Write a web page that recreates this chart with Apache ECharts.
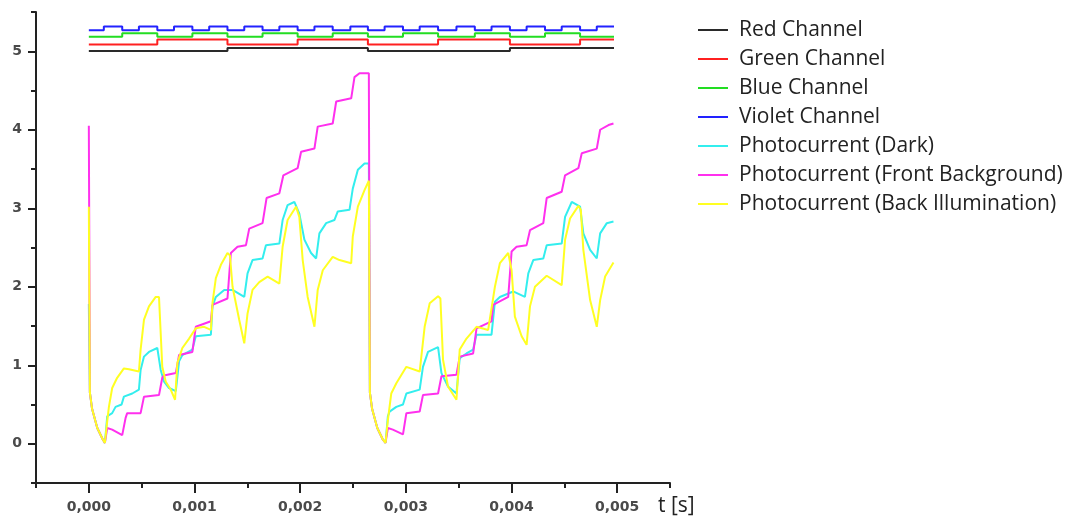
<!DOCTYPE html>
<html>
<head>
<meta charset="utf-8">
<script src="https://cdn.jsdelivr.net/npm/echarts@6/dist/echarts.min.js"></script>
<style>
html, body { margin: 0; padding: 0; background: #fff; }
#main { width: 1071px; height: 516px; }
</style>
</head>
<body>
<div id="main"></div>
<script>
// legend names (as in the original, the "Red Channel" trace is drawn black etc.)
var names = ['Red Channel', 'Green Channel', 'Blue Channel', 'Violet Channel',
    'Photocurrent (Dark)', 'Photocurrent (Front Background)', 'Photocurrent (Back Illumination)'];

// axis ticks
var xMajor = [0, 0.001, 0.002, 0.003, 0.004, 0.005];
var xMinor = [-0.0005, 0.0005, 0.0015, 0.0025, 0.0035, 0.0045, 0.0055];
var yMajor = [0, 1, 2, 3, 4, 5];
var yMinor = [-0.5, 0.5, 1.5, 2.5, 3.5, 4.5, 5.5];

// channel square waves: time of each change, level held from that time
var redChT = [0, 0.001312, 0.002641, 0.003985, 0.00497];
var redChY = [5.004, 5.042, 5.004, 5.042, 5.042];

var greenChT = [0, 0.000648, 0.001312, 0.001976, 0.002641, 0.003305, 0.003985, 0.004649, 0.00497];
var greenChY = [5.085, 5.149, 5.085, 5.149, 5.085, 5.149, 5.085, 5.149, 5.149];

var blueChT = [0, 0.000316, 0.000648, 0.00098, 0.001312, 0.001644, 0.001976, 0.002308, 0.002641,
    0.002973, 0.003305, 0.003653, 0.003985, 0.004317, 0.004649, 0.00497];
var blueChY = [5.185, 5.228, 5.185, 5.228, 5.185, 5.228, 5.185, 5.228, 5.185,
    5.228, 5.185, 5.228, 5.185, 5.228, 5.185, 5.185];

var violetChT = [0, 0.000142, 0.000316, 0.000474, 0.000648, 0.000806, 0.00098, 0.001139, 0.001312,
    0.001471, 0.001644, 0.001803, 0.001976, 0.002135, 0.002308, 0.002475, 0.002641, 0.002799,
    0.002973, 0.003131, 0.003305, 0.003479, 0.003653, 0.003811, 0.003985, 0.004143, 0.004317,
    0.004475, 0.004649, 0.004807, 0.00497];
var violetChY = [5.267, 5.314, 5.267, 5.314, 5.267, 5.314, 5.267, 5.314, 5.267,
    5.314, 5.267, 5.314, 5.267, 5.314, 5.267, 5.314, 5.267, 5.314,
    5.267, 5.314, 5.267, 5.314, 5.267, 5.314, 5.267, 5.314, 5.267,
    5.314, 5.267, 5.314, 5.314];

// photocurrents [t, value]
var darkPts = [
    [0, 1.78], [0.00001, 0.65], [0.00003, 0.45], [0.00008, 0.2], [0.00013, 0.06], [0.000152, 0.01],
    [0.000174, 0.35], [0.000221, 0.39], [0.000253, 0.47], [0.00031, 0.5], [0.000332, 0.6], [0.000411, 0.64],
    [0.000474, 0.69], [0.00049, 0.94], [0.000522, 1.11], [0.000569, 1.17], [0.000648, 1.22], [0.00068, 0.94],
    [0.000712, 0.79], [0.000759, 0.71], [0.000823, 0.67], [0.000854, 1.05], [0.000885, 1.13], [0.00098, 1.2],
    [0.001012, 1.37], [0.001155, 1.39], [0.00117, 1.75], [0.001202, 1.87], [0.001281, 1.96], [0.00136, 1.96],
    [0.001471, 1.87], [0.001502, 2.17], [0.001549, 2.34], [0.001644, 2.36], [0.001676, 2.53], [0.001803, 2.55],
    [0.001834, 2.85], [0.001881, 3.04], [0.001945, 3.08], [0.001992, 2.93], [0.00204, 2.6], [0.002103, 2.43],
    [0.002151, 2.36], [0.002182, 2.68], [0.002246, 2.81], [0.002324, 2.85], [0.002356, 2.96], [0.002467, 2.98],
    [0.002498, 3.25], [0.002546, 3.49], [0.002609, 3.57], [0.00265, 3.57],
    [0.00266, 0.65], [0.00268, 0.45], [0.00273, 0.2], [0.00278, 0.06], [0.002808, 0.01],
    [0.00283, 0.35], [0.002846, 0.41], [0.00291, 0.47], [0.002973, 0.5], [0.003005, 0.64], [0.003131, 0.69],
    [0.003162, 0.98], [0.00321, 1.17], [0.003305, 1.23], [0.003337, 0.9], [0.003399, 0.73], [0.003479, 0.64],
    [0.00351, 1.09], [0.003574, 1.15], [0.003637, 1.2], [0.003669, 1.39], [0.003811, 1.39], [0.003843, 1.81],
    [0.00389, 1.87], [0.004016, 1.94], [0.004127, 1.87], [0.004159, 2.17], [0.004206, 2.34], [0.004301, 2.36],
    [0.004333, 2.53], [0.004475, 2.55], [0.004507, 2.89], [0.00457, 3.08], [0.004649, 3.02], [0.00468, 2.68],
    [0.004744, 2.47], [0.004807, 2.36], [0.004839, 2.68], [0.004902, 2.81], [0.004965, 2.83]
];

var frontPts = [
    [0, 4.05], [0.00001, 0.65], [0.00003, 0.45], [0.00008, 0.2], [0.00013, 0.06], [0.000152, 0.01],
    [0.000174, 0.2], [0.000221, 0.18], [0.000316, 0.11], [0.000348, 0.33], [0.000363, 0.39], [0.00049, 0.39],
    [0.000522, 0.6], [0.000538, 0.62], [0.000664, 0.62], [0.000695, 0.84], [0.00071, 0.87], [0.000823, 0.9],
    [0.000854, 1.13], [0.00098, 1.17], [0.001012, 1.49], [0.001155, 1.56], [0.00117, 1.77], [0.001312, 1.85],
    [0.001344, 2.43], [0.001407, 2.51], [0.001487, 2.53], [0.001518, 2.74], [0.001644, 2.81], [0.001682, 3.13],
    [0.001803, 3.19], [0.001841, 3.42], [0.001976, 3.51], [0.002009, 3.72], [0.002135, 3.76], [0.002166, 4.04],
    [0.002308, 4.08], [0.002341, 4.36], [0.002483, 4.4], [0.002514, 4.67], [0.002562, 4.72], [0.00265, 4.72],
    [0.00266, 0.65], [0.00268, 0.45], [0.00273, 0.2], [0.00278, 0.06], [0.002808, 0.01],
    [0.00283, 0.2], [0.002877, 0.18], [0.002973, 0.12], [0.003005, 0.39], [0.003131, 0.41], [0.003162, 0.62],
    [0.003305, 0.64], [0.003337, 0.86], [0.003479, 0.88], [0.00351, 1.11], [0.003637, 1.15], [0.003669, 1.47],
    [0.003811, 1.56], [0.003826, 1.77], [0.003969, 1.87], [0.004001, 2.45], [0.004048, 2.51], [0.004143, 2.53],
    [0.004175, 2.72], [0.004301, 2.81], [0.004333, 3.13], [0.004475, 3.21], [0.004507, 3.42], [0.004633, 3.51],
    [0.004665, 3.7], [0.004807, 3.76], [0.004839, 4.0], [0.004918, 4.06], [0.004965, 4.08]
];

var backPts = [
    [0, 3.02], [0.00001, 0.65], [0.00003, 0.45], [0.00008, 0.2], [0.00013, 0.06], [0.000152, 0.01],
    [0.000171, 0.25], [0.00019, 0.47], [0.000221, 0.71], [0.000268, 0.84], [0.000332, 0.96], [0.00038, 0.95],
    [0.000474, 0.92], [0.00049, 1.2], [0.000522, 1.58], [0.000569, 1.75], [0.000633, 1.87], [0.000664, 1.87],
    [0.00068, 1.41], [0.000695, 0.98], [0.000728, 0.79], [0.000775, 0.69], [0.000816, 0.56], [0.000838, 1.03],
    [0.000885, 1.22], [0.000949, 1.34], [0.001012, 1.47], [0.001091, 1.49], [0.001155, 1.45], [0.00117, 1.79],
    [0.001202, 2.11], [0.00125, 2.28], [0.001312, 2.43], [0.001335, 2.4], [0.00136, 2.0], [0.001423, 1.58],
    [0.001471, 1.28], [0.001502, 1.66], [0.001549, 1.96], [0.001613, 2.06], [0.001692, 2.13], [0.001803, 2.04],
    [0.001834, 2.51], [0.001881, 2.85], [0.001961, 3.02], [0.001992, 2.89], [0.002024, 2.34], [0.002071, 1.87],
    [0.002135, 1.49], [0.002166, 1.96], [0.002214, 2.21], [0.002308, 2.38], [0.002372, 2.34], [0.002483, 2.3],
    [0.002498, 2.64], [0.002546, 3.02], [0.002609, 3.23], [0.00265, 3.35],
    [0.00266, 0.65], [0.00268, 0.45], [0.00273, 0.2], [0.00278, 0.06], [0.002808, 0.01],
    [0.00283, 0.3], [0.002862, 0.64], [0.00291, 0.77], [0.003005, 0.98], [0.003131, 0.92], [0.003178, 1.49],
    [0.003226, 1.79], [0.003305, 1.88], [0.003327, 1.85], [0.003352, 1.07], [0.003399, 0.73], [0.003479, 0.56],
    [0.00351, 1.2], [0.003574, 1.34], [0.003669, 1.49], [0.003779, 1.45], [0.003843, 2.0], [0.00389, 2.3],
    [0.003969, 2.43], [0.004001, 2.21], [0.004032, 1.62], [0.004096, 1.37], [0.004143, 1.26], [0.004175, 1.75],
    [0.004222, 2.0], [0.004333, 2.14], [0.004475, 2.02], [0.004507, 2.6], [0.004554, 2.87], [0.004633, 3.03],
    [0.004656, 2.98], [0.00468, 2.47], [0.004744, 1.83], [0.004807, 1.49], [0.004839, 1.83], [0.004886, 2.13],
    [0.004965, 2.31]
];

var colors = ['#2a2a2a', '#ff2020', '#22dd22', '#2222ff', '#33eeee', '#ff30ee', '#ffff22'];

function pairs(ts, ys) {
    return ts.map(function (t, i) { return [t, ys[i]]; });
}

function lineSeries(name, data, stepped) {
    return {
        name: name,
        type: 'line',
        data: data,
        step: stepped ? 'end' : false,
        symbol: 'none',
        showSymbol: false,
        lineStyle: { width: 2 },
        animation: false
    };
}

var axisColor = '#222';
var labelFont = { fontFamily: 'DejaVu Sans', fontSize: 14, fontWeight: 'bold', color: '#4a4a4a' };

var myChart = echarts.init(document.getElementById('main'));

myChart.setOption({
    color: colors,
    animation: false,
    grid: { left: 36, right: 401, top: 12, bottom: 33, outerBoundsMode: 'none' },
    legend: {
        orient: 'vertical',
        left: 693,
        top: 14,
        icon: 'rect',
        itemWidth: 30,
        itemHeight: 2,
        itemGap: 7,
        textStyle: { fontFamily: 'Open Sans', fontSize: 21, color: '#222', lineHeight: 22, padding: [0, 0, 0, 6] },
        data: names
    },
    xAxis: [{
        type: 'value',
        min: -0.0005,
        max: 0.0055,
        position: 'bottom',
        axisLine: { onZero: false, lineStyle: { color: axisColor, width: 2 } },
        axisTick: { length: 10, customValues: xMajor, lineStyle: { color: axisColor, width: 2 } },
        axisLabel: Object.assign({
            customValues: xMajor,
            margin: 17,
            formatter: function (v) { return v.toFixed(3).replace('.', ','); }
        }, labelFont),
        splitLine: { show: false },
        name: 't [s]',
        nameLocation: 'end',
        nameGap: -12,
        nameTextStyle: { fontFamily: 'Open Sans', fontSize: 21, color: '#222', verticalAlign: 'top', padding: [13, 0, 0, 0] }
    }, {
        type: 'value',
        min: -0.0005,
        max: 0.0055,
        position: 'bottom',
        axisLine: { show: false, onZero: false },
        axisTick: { length: 5, customValues: xMinor, lineStyle: { color: axisColor, width: 2 } },
        axisLabel: { show: false },
        splitLine: { show: false }
    }],
    yAxis: [{
        type: 'value',
        min: -0.5,
        max: 5.5,
        position: 'left',
        axisLine: { show: true, onZero: false, lineStyle: { color: axisColor, width: 2 } },
        axisTick: { show: true, length: 8, customValues: yMajor, lineStyle: { color: axisColor, width: 2 } },
        axisLabel: Object.assign({ customValues: yMajor, margin: 14 }, labelFont),
        splitLine: { show: false }
    }, {
        type: 'value',
        min: -0.5,
        max: 5.5,
        position: 'left',
        axisLine: { show: false, onZero: false },
        axisTick: { show: true, length: 5, customValues: yMinor, lineStyle: { color: axisColor, width: 2 } },
        axisLabel: { show: false },
        splitLine: { show: false }
    }],
    series: [
        lineSeries(names[0], pairs(redChT, redChY), true),
        lineSeries(names[1], pairs(greenChT, greenChY), true),
        lineSeries(names[2], pairs(blueChT, blueChY), true),
        lineSeries(names[3], pairs(violetChT, violetChY), true),
        lineSeries(names[4], darkPts, false),
        lineSeries(names[5], frontPts, false),
        lineSeries(names[6], backPts, false)
    ]
});
</script>
</body>
</html>
